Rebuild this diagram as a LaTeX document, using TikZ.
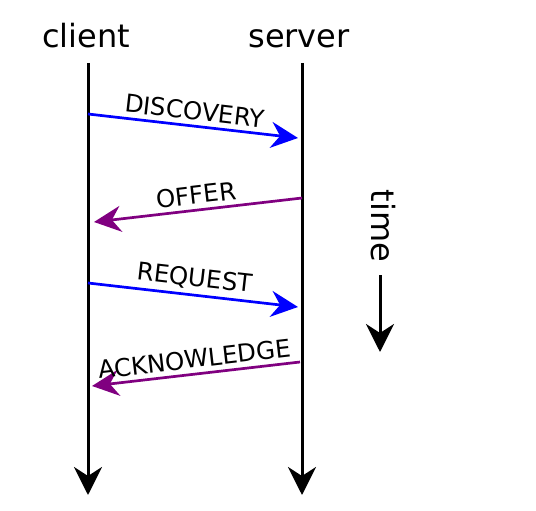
\documentclass[tikz,border=0pt]{standalone}
\usepackage{fontspec}
\setmainfont{DejaVu Sans}
\usetikzlibrary{arrows.meta}
\definecolor{msgblue}{RGB}{0,0,255}
\definecolor{msgpurple}{RGB}{128,0,128}
\begin{document}
\begin{tikzpicture}[x=1pt,y=-1pt,
  title/.style={font=\fontsize{32}{38}\selectfont, anchor=base, inner sep=0pt},
  lifeline/.style={line width=3pt, -{Stealth[length=28pt,width=28pt,inset=9pt]}},
  msg/.style={line width=2.7pt, -{Stealth[length=27pt,width=26pt,inset=9pt]}},
  req/.style={msg, draw=msgblue, fill=msgblue},
  rep/.style={msg, draw=msgpurple, fill=msgpurple},
  lbl/.style={font=\fontsize{24.5}{29}\selectfont, sloped, above, midway, inner sep=4.5pt}]
\useasboundingbox (0,0) rectangle (536,511);
\node[title] (client) at (86,48) {client};
\node[title] (server) at (299,48) {server};
\coordinate (ctop) at (88,63);
\coordinate (cbot) at (88,495);
\coordinate (stop) at (302,63);
\coordinate (sbot) at (302,495);
\draw[lifeline] (ctop) -- (cbot);
\draw[lifeline] (stop) -- (sbot);
\coordinate (d1) at (88,114);
\coordinate (d2) at (298,138);
\coordinate (o1) at (302,198);
\coordinate (o2) at (94,222);
\coordinate (r1) at (88,283);
\coordinate (r2) at (298,307);
\coordinate (a1) at (300,362);
\coordinate (a2) at (92,386);
\draw[req] (d1) -- node[lbl] (ldisc) {DISCOVERY} (d2);
\draw[rep] (o1) -- node[lbl] (loffer) {OFFER} (o2);
\draw[req] (r1) -- node[lbl] (lreq) {REQUEST} (r2);
\draw[rep] (a1) -- node[lbl] (lack) {ACKNOWLEDGE} (a2);
\node[font=\fontsize{32}{38}\selectfont, rotate=-90, inner sep=0pt] (time) at (383,226) {time};
\coordinate (t1) at (380,275);
\coordinate (t2) at (380,352);
\draw[lifeline] (t1) -- (t2);
\end{tikzpicture}
\end{document}
